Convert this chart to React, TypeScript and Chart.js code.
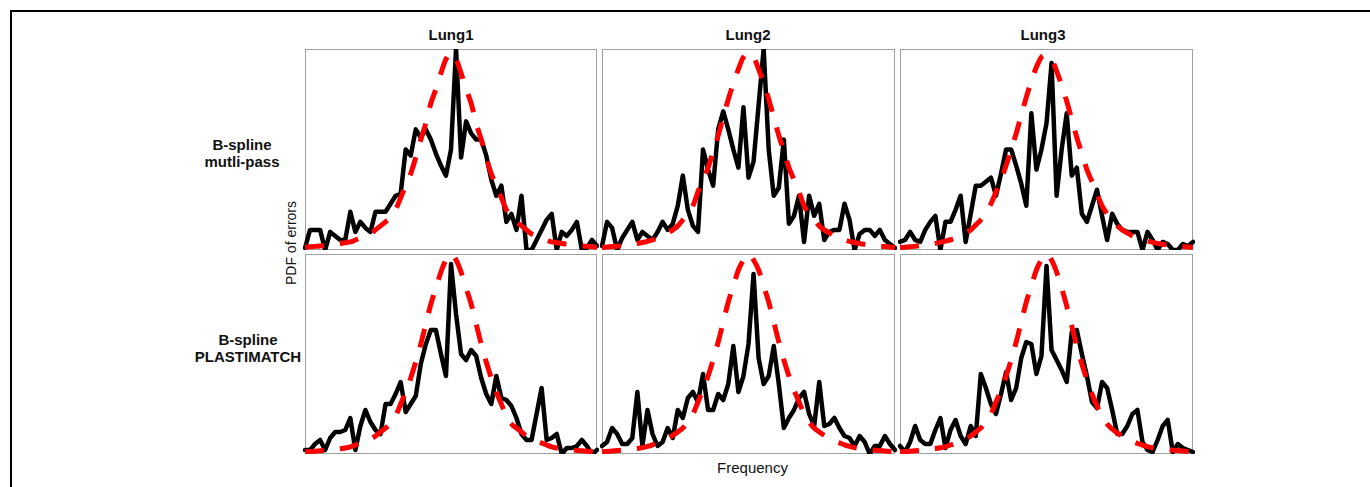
import React, { useEffect, useRef } from "react";
import { Chart, registerables } from "chart.js";

Chart.register(...registerables);

// ---------- data (normalised PDF, % of panel height) ----------
const LUNGS = ["Lung1", "Lung2", "Lung3"];
const METHODS = [
  ["B-spline", "mutli-pass"],
  ["B-spline", "PLASTIMATCH"],
];
const Y_LABEL = "PDF of errors";
const X_LABEL = "Frequency";

// Row 1: B-spline multi-pass (black = measured errors)
const ERR_LUNG1_MULTI = [1, 10, 10, 10, 0, 9, 7, 5, 5, 19, 9, 14, 11, 9, 19, 19, 19, 23, 27, 28, 50, 47, 60, 56, 60, 55, 48, 42, 37, 50, 100, 46, 64, 58, 55, 55, 47, 35, 27, 32, 14, 18, 10, 27, 0, 0, 5, 10, 15, 18, 0, 9, 7, 10, 14, 0, 1, 5, 2];
const ERR_LUNG2_MULTI = [2, 14, 11, 0, 6, 10, 14, 5, 9, 7, 5, 9, 14, 10, 13, 22, 37, 20, 12, 9, 50, 40, 32, 60, 69, 60, 50, 41, 71, 36, 44, 72, 100, 50, 27, 31, 55, 13, 17, 27, 4, 27, 17, 23, 5, 9, 10, 10, 23, 15, 0, 8, 10, 10, 7, 10, 5, 3, 1];
const ERR_LUNG3_MULTI = [4, 5, 9, 5, 4, 10, 14, 17, 0, 14, 14, 20, 27, 4, 18, 32, 32, 34, 36, 27, 38, 50, 50, 42, 33, 22, 68, 40, 50, 63, 93, 27, 50, 68, 37, 41, 18, 14, 22, 30, 17, 5, 18, 13, 10, 9, 9, 9, 0, 9, 5, 0, 4, 3, 0, 0, 3, 2, 4];

// Row 2: B-spline PLASTIMATCH
const ERR_LUNG1_PLASTI = [2, 2, 5, 7, 2, 8, 11, 11, 12, 18, 2, 14, 22, 16, 12, 10, 25, 25, 30, 36, 21, 25, 29, 45, 55, 62, 62, 50, 39, 95, 70, 50, 47, 52, 49, 38, 30, 25, 39, 28, 27, 24, 18, 10, 7, 7, 20, 33, 7, 8, 10, 0, 3, 3, 4, 7, 4, 0, 2];
const ERR_LUNG2_PLASTI = [4, 6, 13, 10, 5, 5, 8, 31, 4, 22, 10, 4, 6, 13, 8, 22, 18, 28, 31, 26, 40, 22, 22, 30, 27, 35, 54, 31, 39, 55, 90, 48, 35, 39, 54, 35, 13, 18, 22, 28, 31, 20, 14, 36, 14, 15, 18, 13, 9, 8, 4, 9, 6, 0, 4, 4, 9, 5, 2];
const ERR_LUNG3_PLASTI = [4, 1, 6, 14, 7, 5, 5, 12, 18, 3, 12, 17, 9, 5, 14, 9, 40, 33, 25, 20, 30, 41, 27, 33, 48, 56, 55, 40, 49, 94, 52, 47, 42, 36, 61, 62, 50, 39, 26, 23, 36, 33, 22, 10, 10, 14, 20, 22, 6, 2, 1, 7, 14, 17, 1, 5, 3, 2, 1];

// Fitted distributions (red dashed)
const FIT_LUNG1_MULTI = [1.4, 1.6, 1.8, 2, 2.3, 2.6, 2.9, 3.2, 3.6, 4, 5, 6, 7, 8, 10, 12, 14, 16, 20, 26, 32, 38, 46, 55, 63, 73, 80, 88, 95, 98, 95, 88, 80, 73, 63, 55, 46, 38, 32, 26, 20, 16, 14, 12, 10, 8, 7, 6, 5, 4, 3.6, 3.2, 2.9, 2.6, 2.3, 2, 1.8, 1.6, 1.4];
const FIT_LUNG2_MULTI = [1.3, 1.5, 1.7, 1.9, 2.2, 2.5, 2.8, 3.2, 3.7, 4.3, 5, 6, 7, 8.5, 10, 12, 15, 18, 22, 29, 35, 41, 49, 57, 66, 75, 83, 90, 96, 98, 96, 90, 83, 75, 66, 57, 49, 41, 35, 29, 22, 18, 15, 12, 10, 8.5, 7, 6, 5, 4.3, 3.7, 3.2, 2.8, 2.5, 2.2, 1.9, 1.7, 1.5, 1.3];
const FIT_LUNG3_MULTI = [1.2, 1.4, 1.6, 1.9, 2.2, 2.5, 2.9, 3.3, 3.8, 4.4, 5.1, 6, 7.2, 8.6, 10, 12.5, 15, 18.5, 23, 29, 35, 42, 50, 58, 67, 76, 84, 91, 96, 97, 95, 89, 82, 74, 65, 56, 48, 40, 34, 28, 22, 18, 14.5, 12, 10, 8.5, 7, 6, 5.2, 4.5, 3.8, 3.3, 2.9, 2.5, 2.2, 1.9, 1.7, 1.5, 1.3];
const FIT_LUNG1_PLASTI = [1, 1.2, 1.4, 1.6, 1.8, 2, 2.3, 2.6, 3, 3.6, 4.5, 5.5, 6.5, 7.5, 9, 11, 13, 15, 19, 25, 31, 38, 46, 55, 65, 75, 83, 91, 97, 100, 97, 91, 83, 75, 65, 55, 46, 38, 31, 25, 19, 15, 13, 11, 9, 7.5, 6.5, 5.5, 4.5, 3.6, 3, 2.6, 2.3, 2, 1.8, 1.6, 1.4, 1.2, 1];
const FIT_LUNG2_PLASTI = [1.1, 1.3, 1.5, 1.7, 1.9, 2.2, 2.5, 2.8, 3.2, 3.8, 4.6, 5.6, 6.6, 7.8, 9.3, 11, 13, 16, 20, 26, 32, 39, 47, 56, 66, 76, 84, 92, 97, 100, 97, 92, 84, 76, 66, 56, 47, 39, 32, 26, 20, 16, 13, 11, 9.3, 7.8, 6.6, 5.6, 4.6, 3.8, 3.2, 2.8, 2.5, 2.2, 1.9, 1.7, 1.5, 1.3, 1.1];
const FIT_LUNG3_PLASTI = [1, 1.2, 1.4, 1.6, 1.9, 2.1, 2.4, 2.7, 3.1, 3.7, 4.5, 5.4, 6.4, 7.6, 9, 11, 13, 16, 20, 26, 32, 39, 47, 56, 66, 76, 84, 92, 97, 100, 97, 91, 83, 74, 64, 54, 45, 37, 30, 24, 19, 15, 12.5, 10.5, 9, 7.5, 6.3, 5.3, 4.4, 3.7, 3.1, 2.7, 2.4, 2.1, 1.9, 1.7, 1.5, 1.3, 1.1];

const ERRORS = [
  [ERR_LUNG1_MULTI, ERR_LUNG2_MULTI, ERR_LUNG3_MULTI],
  [ERR_LUNG1_PLASTI, ERR_LUNG2_PLASTI, ERR_LUNG3_PLASTI],
];
const FITS = [
  [FIT_LUNG1_MULTI, FIT_LUNG2_MULTI, FIT_LUNG3_MULTI],
  [FIT_LUNG1_PLASTI, FIT_LUNG2_PLASTI, FIT_LUNG3_PLASTI],
];

// ---------- layout ----------
const COL_X = [305, 602, 900];
const COL_W = [292, 293, 293];
const ROW_Y = [49, 254];
const ROW_H = [201, 200];
const PAD = 3;
const FONT = "'Liberation Sans', Arial, Helvetica, sans-serif";

const framePlugin = {
  id: "frame",
  beforeDatasetsDraw(chart: any) {
    const { ctx, chartArea: a } = chart;
    ctx.save();
    ctx.strokeStyle = "#a0a0a0";
    ctx.lineWidth = 1;
    ctx.strokeRect(a.left + 0.5, a.top + 0.5, a.width - 1, a.height - 1);
    ctx.restore();
  },
};

function Panel({ errors, fit, x, y, w, h }: { errors: number[]; fit: number[]; x: number; y: number; w: number; h: number }) {
  const ref = useRef<HTMLCanvasElement>(null);
  useEffect(() => {
    const canvas = ref.current;
    if (!canvas) return;
    const labels = errors.map((_, i) => String(i));
    const chart = new Chart(canvas, {
      type: "line",
      data: {
        labels,
        datasets: [
          {
            data: fit,
            borderColor: "#ff0000",
            borderWidth: 5,
            borderDash: [19, 16],
            borderCapStyle: "butt",
            pointRadius: 0,
            cubicInterpolationMode: "monotone",
            fill: false,
          },
          {
            data: errors,
            borderColor: "#000000",
            borderWidth: 4.5,
            borderJoinStyle: "round",
            borderCapStyle: "round",
            pointRadius: 0,
            tension: 0,
            fill: false,
          },
        ],
      },
      options: {
        responsive: false,
        animation: false,
        devicePixelRatio: 1,
        events: [],
        layout: { padding: PAD },
        plugins: { legend: { display: false }, tooltip: { enabled: false }, title: { display: false } },
        scales: {
          x: { type: "category", display: false, offset: false },
          y: { type: "linear", display: false, min: 0, max: 100 },
        },
      },
      plugins: [framePlugin],
    } as any);
    return () => chart.destroy();
  }, [errors, fit]);
  return (
    <canvas
      ref={ref}
      width={w + 2 * PAD}
      height={h + 2 * PAD}
      style={{ position: "absolute", left: x - PAD, top: y - PAD, width: w + 2 * PAD, height: h + 2 * PAD }}
    />
  );
}

const TITLE_CX = [451, 748, 1043];
const ROW_LABEL_CX = [242, 248];
const ROW_LABEL_TOP = [136, 331];

export default function App() {
  return (
    <div
      style={{
        position: "absolute",
        left: 0,
        top: 0,
        width: 1370,
        height: 487,
        overflow: "hidden",
        background: "#ffffff",
        fontFamily: FONT,
        color: "#111",
      }}
    >
      <div
        style={{
          position: "absolute",
          left: 10,
          top: 10,
          width: 1500,
          height: 600,
          borderTop: "2px solid #000",
          borderLeft: "2px solid #000",
        }}
      />
      {LUNGS.map((name, c) => (
        <div
          key={name}
          style={{
            position: "absolute",
            left: TITLE_CX[c] - 60,
            width: 120,
            top: 26.5,
            textAlign: "center",
            fontWeight: "bold",
            fontSize: 15,
            lineHeight: "15px",
            whiteSpace: "nowrap",
          }}
        >
          {name}
        </div>
      ))}
      {METHODS.map((lines, r) => (
        <div
          key={r}
          style={{
            position: "absolute",
            left: ROW_LABEL_CX[r] - 80,
            width: 160,
            top: ROW_LABEL_TOP[r],
            textAlign: "center",
            fontWeight: "bold",
            fontSize: 15,
            lineHeight: "17px",
            whiteSpace: "nowrap",
          }}
        >
          {lines.map((t) => (
            <div key={t}>{t}</div>
          ))}
        </div>
      ))}
      <div
        style={{
          position: "absolute",
          left: 291 - 60,
          top: 242.5 - 7,
          width: 120,
          height: 14,
          textAlign: "center",
          fontSize: 14,
          lineHeight: "14px",
          whiteSpace: "nowrap",
          transform: "rotate(-90deg)",
          transformOrigin: "50% 50%",
        }}
      >
        {Y_LABEL}
      </div>
      <div
        style={{
          position: "absolute",
          left: 752.5 - 60,
          width: 120,
          top: 460,
          textAlign: "center",
          fontSize: 15,
          lineHeight: "15px",
          whiteSpace: "nowrap",
        }}
      >
        {X_LABEL}
      </div>
      {ERRORS.map((row, r) =>
        row.map((errs, c) => (
          <Panel
            key={`${r}-${c}`}
            errors={errs}
            fit={FITS[r][c]}
            x={COL_X[c]}
            y={ROW_Y[r]}
            w={COL_W[c]}
            h={ROW_H[r]}
          />
        ))
      )}
    </div>
  );
}
